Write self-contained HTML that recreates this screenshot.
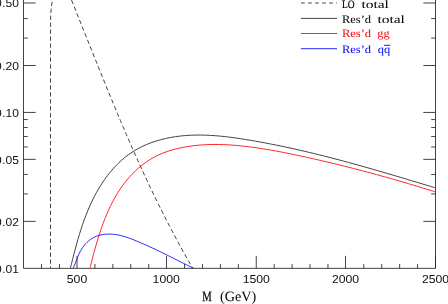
<!DOCTYPE html>
<html><head><meta charset="utf-8"><title>plot</title>
<style>html,body{margin:0;padding:0;background:#fff;overflow:hidden}body{width:448px;height:304px}</style></head>
<body>
<div style="will-change:transform;width:448px;height:304px"><svg width="448" height="304" viewBox="0 0 448 304" style="display:block" text-rendering="geometricPrecision">
<rect width="448" height="304" fill="#fff"/>
<g stroke="#222" stroke-width="0.85" fill="none">
<path d="M23.50 0 V268.35 H435.50 V0"/>
<path d="M41.50 268.35 v-4.40"/>
<path d="M59.45 268.35 v-4.40"/>
<path d="M77.00 268.35 v-12.50"/>
<path d="M94.92 268.35 v-4.40"/>
<path d="M112.85 268.35 v-4.40"/>
<path d="M130.78 268.35 v-4.40"/>
<path d="M148.70 268.35 v-4.40"/>
<path d="M166.50 268.35 v-12.50"/>
<path d="M184.55 268.35 v-4.40"/>
<path d="M202.47 268.35 v-4.40"/>
<path d="M220.40 268.35 v-4.40"/>
<path d="M238.32 268.35 v-4.40"/>
<path d="M256.25 268.35 v-12.50"/>
<path d="M274.18 268.35 v-4.40"/>
<path d="M292.10 268.35 v-4.40"/>
<path d="M310.02 268.35 v-4.40"/>
<path d="M327.95 268.35 v-4.40"/>
<path d="M345.50 268.35 v-12.50"/>
<path d="M363.80 268.35 v-4.40"/>
<path d="M381.73 268.35 v-4.40"/>
<path d="M399.65 268.35 v-4.40"/>
<path d="M417.57 268.35 v-4.40"/>
<path d="M435.50 268.35 v-12.50"/>
<path d="M23.50 3.00 h12.20 M435.50 3.00 h-12.20"/>
<path d="M23.50 18.59 h4.30 M435.50 18.59 h-4.30"/>
<path d="M23.50 38.06 h4.30 M435.50 38.06 h-4.30"/>
<path d="M23.50 65.51 h12.20 M435.50 65.51 h-12.20"/>
<path d="M23.50 112.43 h12.20 M435.50 112.43 h-12.20"/>
<path d="M23.50 119.56 h4.30 M435.50 119.56 h-4.30"/>
<path d="M23.50 127.54 h4.30 M435.50 127.54 h-4.30"/>
<path d="M23.50 136.57 h4.30 M435.50 136.57 h-4.30"/>
<path d="M23.50 147.01 h4.30 M435.50 147.01 h-4.30"/>
<path d="M23.50 159.35 h12.20 M435.50 159.35 h-12.20"/>
<path d="M23.50 174.46 h4.30 M435.50 174.46 h-4.30"/>
<path d="M23.50 193.93 h4.30 M435.50 193.93 h-4.30"/>
<path d="M23.50 221.38 h12.20 M435.50 221.38 h-12.20"/>
</g>
<clipPath id="c"><rect x="23.50" y="-10" width="412.00" height="278.35"/></clipPath>
<g fill="none" stroke-width="0.85" clip-path="url(#c)">
<path d="M50.50 268.20 L50.50 200.00 L50.50 100.00 L50.50 40.00 L50.60 20.00 L50.90 12.00 L51.50 6.00 L52.30 1.00 L53.50 -5.00" stroke="#222" stroke-dasharray="4.3 2.67" stroke-dashoffset="2.6"/>
<path d="M69.04 -6.00 L71.89 1.03 L74.73 8.06 L77.56 15.09 L80.38 22.12 L83.20 29.15 L86.01 36.18 L88.82 43.22 L91.64 50.25 L94.46 57.28 L97.28 64.31 L100.12 71.34 L102.97 78.37 L105.83 85.40 L108.70 92.43 L111.60 99.46 L114.51 106.49 L117.45 113.52 L120.41 120.55 L123.40 127.58 L126.43 134.62 L129.48 141.65 L132.57 148.68 L135.69 155.71 L138.86 162.74 L142.06 169.77 L145.31 176.80 L148.61 183.83 L151.96 190.86 L155.35 197.89 L158.80 204.92 L162.31 211.95 L165.87 218.98 L169.50 226.02 L173.19 233.05 L176.94 240.08 L180.76 247.11 L184.65 254.14 L188.61 261.17 L192.65 268.20" stroke="#222" stroke-dasharray="4.3 2.84" stroke-dashoffset="0.58"/>
<path d="M70.35 268.30 C70.55 267.50 71.14 265.09 71.54 263.49 C71.94 261.88 72.34 260.26 72.75 258.65 C73.16 257.03 73.57 255.41 73.99 253.79 C74.41 252.17 74.84 250.55 75.27 248.93 C75.71 247.31 76.15 245.68 76.60 244.06 C77.05 242.44 77.51 240.82 77.98 239.20 C78.45 237.58 78.93 235.96 79.43 234.35 C79.92 232.74 80.42 231.12 80.94 229.52 C81.46 227.91 81.99 226.31 82.53 224.71 C83.08 223.12 83.64 221.52 84.21 219.94 C84.79 218.36 85.38 216.78 85.98 215.21 C86.59 213.64 87.22 212.08 87.86 210.52 C88.50 208.97 89.16 207.43 89.84 205.89 C90.52 204.36 91.22 202.83 91.94 201.32 C92.67 199.81 93.41 198.31 94.17 196.82 C94.94 195.33 95.72 193.86 96.53 192.40 C97.34 190.94 98.17 189.49 99.03 188.05 C99.89 186.62 100.77 185.20 101.68 183.80 C102.59 182.40 103.53 181.01 104.49 179.65 C105.45 178.28 106.44 176.93 107.46 175.60 C108.48 174.26 109.53 172.95 110.60 171.66 C111.68 170.37 112.78 169.10 113.91 167.86 C115.05 166.62 116.21 165.40 117.40 164.21 C118.58 163.02 119.80 161.86 121.05 160.74 C122.29 159.61 123.57 158.52 124.87 157.46 C126.17 156.40 127.50 155.38 128.86 154.40 C130.22 153.41 131.61 152.47 133.02 151.57 C134.44 150.67 135.88 149.81 137.35 148.99 C138.82 148.17 140.31 147.40 141.83 146.67 C143.34 145.93 144.88 145.24 146.43 144.58 C147.98 143.93 149.55 143.31 151.14 142.73 C152.72 142.15 154.32 141.61 155.92 141.10 C157.53 140.60 159.15 140.13 160.77 139.69 C162.39 139.26 164.02 138.86 165.65 138.49 C167.28 138.12 168.92 137.79 170.56 137.48 C172.20 137.18 173.84 136.91 175.48 136.66 C177.13 136.42 178.78 136.21 180.43 136.02 C182.08 135.84 183.74 135.68 185.39 135.55 C187.05 135.42 188.71 135.32 190.37 135.24 C192.03 135.16 193.70 135.10 195.36 135.07 C197.03 135.04 198.69 135.03 200.36 135.05 C202.03 135.06 203.70 135.10 205.37 135.15 C207.04 135.21 208.72 135.28 210.39 135.38 C212.06 135.47 213.74 135.58 215.41 135.71 C217.09 135.84 218.76 135.98 220.44 136.14 C222.11 136.30 223.79 136.48 225.46 136.67 C227.13 136.86 228.81 137.06 230.48 137.27 C232.16 137.49 233.83 137.72 235.50 137.95 C237.18 138.19 238.85 138.43 240.52 138.69 C242.19 138.94 243.86 139.21 245.52 139.48 C247.19 139.75 248.86 140.03 250.52 140.31 C252.19 140.59 253.85 140.88 255.51 141.17 C257.17 141.47 258.83 141.76 260.48 142.07 C262.14 142.37 263.79 142.68 265.45 142.99 C267.10 143.30 268.75 143.62 270.40 143.94 C272.05 144.26 273.69 144.59 275.34 144.92 C276.99 145.25 278.63 145.59 280.27 145.93 C281.92 146.27 283.56 146.62 285.20 146.97 C286.84 147.31 288.47 147.67 290.11 148.02 C291.75 148.38 293.38 148.74 295.02 149.11 C296.65 149.48 298.28 149.84 299.91 150.22 C301.55 150.59 303.18 150.97 304.80 151.35 C306.43 151.73 308.06 152.12 309.69 152.51 C311.31 152.89 312.94 153.29 314.56 153.68 C316.19 154.08 317.81 154.48 319.43 154.88 C321.05 155.28 322.68 155.69 324.30 156.10 C325.92 156.51 327.54 156.92 329.15 157.33 C330.77 157.75 332.39 158.17 334.01 158.59 C335.62 159.01 337.24 159.44 338.86 159.86 C340.47 160.29 342.09 160.72 343.70 161.15 C345.31 161.59 346.93 162.02 348.54 162.46 C350.15 162.90 351.77 163.34 353.38 163.78 C354.99 164.23 356.60 164.67 358.21 165.12 C359.82 165.57 361.43 166.02 363.04 166.47 C364.65 166.93 366.26 167.38 367.87 167.84 C369.48 168.29 371.09 168.75 372.70 169.22 C374.31 169.68 375.92 170.14 377.53 170.60 C379.14 171.07 380.74 171.54 382.35 172.00 C383.96 172.47 385.57 172.94 387.18 173.41 C388.79 173.89 390.39 174.36 392.00 174.83 C393.61 175.31 395.22 175.78 396.83 176.26 C398.44 176.74 400.05 177.22 401.65 177.70 C403.26 178.18 404.87 178.66 406.48 179.14 C408.09 179.62 409.70 180.10 411.31 180.59 C412.92 181.07 414.53 181.56 416.14 182.04 C417.75 182.53 419.37 183.01 420.98 183.50 C422.59 183.99 424.20 184.48 425.81 184.97 C427.43 185.45 429.04 185.94 430.66 186.43 C432.27 186.92 434.69 187.66 435.50 187.90" stroke="#222"/>
<path d="M90.00 268.30 C90.18 267.55 90.72 265.33 91.10 263.83 C91.47 262.33 91.84 260.83 92.22 259.32 C92.61 257.81 93.00 256.30 93.39 254.78 C93.79 253.27 94.20 251.74 94.61 250.22 C95.03 248.70 95.45 247.18 95.88 245.65 C96.32 244.13 96.76 242.60 97.21 241.08 C97.67 239.55 98.13 238.03 98.61 236.51 C99.09 234.99 99.58 233.47 100.08 231.95 C100.59 230.44 101.10 228.92 101.63 227.42 C102.16 225.91 102.71 224.41 103.27 222.91 C103.83 221.42 104.41 219.93 105.00 218.45 C105.59 216.97 106.20 215.49 106.83 214.03 C107.45 212.57 108.10 211.11 108.76 209.67 C109.42 208.22 110.10 206.79 110.80 205.37 C111.50 203.95 112.22 202.54 112.96 201.14 C113.71 199.75 114.47 198.37 115.25 197.00 C116.04 195.63 116.84 194.28 117.67 192.95 C118.50 191.61 119.35 190.29 120.23 188.99 C121.10 187.69 122.00 186.41 122.92 185.14 C123.85 183.88 124.80 182.63 125.77 181.41 C126.75 180.19 127.75 178.98 128.78 177.80 C129.81 176.62 130.87 175.46 131.95 174.32 C133.04 173.19 134.15 172.08 135.29 170.99 C136.43 169.91 137.60 168.85 138.79 167.82 C139.98 166.79 141.20 165.79 142.45 164.82 C143.69 163.85 144.97 162.92 146.26 162.02 C147.56 161.12 148.88 160.26 150.22 159.43 C151.56 158.61 152.93 157.82 154.32 157.08 C155.71 156.34 157.12 155.63 158.55 154.96 C159.98 154.30 161.43 153.67 162.89 153.09 C164.36 152.50 165.84 151.95 167.33 151.44 C168.83 150.93 170.34 150.45 171.86 150.01 C173.38 149.57 174.91 149.16 176.45 148.78 C177.98 148.40 179.53 148.05 181.08 147.73 C182.63 147.41 184.18 147.12 185.74 146.85 C187.30 146.58 188.86 146.34 190.42 146.12 C191.98 145.90 193.54 145.70 195.11 145.53 C196.67 145.36 198.24 145.21 199.81 145.08 C201.38 144.95 202.95 144.84 204.52 144.75 C206.09 144.67 207.66 144.60 209.24 144.55 C210.81 144.50 212.38 144.48 213.96 144.47 C215.53 144.46 217.11 144.47 218.69 144.49 C220.26 144.52 221.84 144.56 223.42 144.62 C224.99 144.68 226.57 144.75 228.15 144.84 C229.72 144.93 231.30 145.03 232.87 145.15 C234.45 145.27 236.03 145.40 237.60 145.55 C239.18 145.69 240.75 145.85 242.33 146.02 C243.90 146.19 245.47 146.37 247.04 146.56 C248.61 146.75 250.18 146.95 251.75 147.16 C253.32 147.37 254.89 147.59 256.45 147.82 C258.02 148.05 259.58 148.28 261.15 148.53 C262.71 148.77 264.27 149.02 265.82 149.28 C267.38 149.54 268.94 149.80 270.49 150.07 C272.04 150.34 273.60 150.61 275.15 150.89 C276.70 151.17 278.25 151.46 279.79 151.75 C281.34 152.04 282.88 152.34 284.43 152.64 C285.97 152.94 287.52 153.25 289.06 153.56 C290.60 153.87 292.14 154.19 293.68 154.51 C295.22 154.83 296.76 155.15 298.30 155.48 C299.84 155.80 301.38 156.13 302.92 156.47 C304.45 156.80 305.99 157.14 307.53 157.48 C309.07 157.82 310.60 158.16 312.14 158.50 C313.68 158.85 315.21 159.20 316.75 159.55 C318.29 159.90 319.82 160.25 321.36 160.61 C322.89 160.97 324.43 161.33 325.96 161.69 C327.50 162.05 329.03 162.42 330.57 162.78 C332.10 163.15 333.64 163.52 335.17 163.89 C336.70 164.27 338.24 164.64 339.77 165.02 C341.30 165.40 342.83 165.78 344.37 166.16 C345.90 166.54 347.43 166.93 348.96 167.32 C350.49 167.71 352.02 168.10 353.55 168.49 C355.08 168.88 356.61 169.28 358.14 169.68 C359.67 170.07 361.20 170.48 362.73 170.88 C364.25 171.28 365.78 171.69 367.31 172.09 C368.83 172.50 370.36 172.91 371.89 173.32 C373.41 173.74 374.94 174.15 376.46 174.57 C377.98 174.99 379.51 175.40 381.03 175.83 C382.55 176.25 384.08 176.67 385.60 177.10 C387.12 177.52 388.64 177.95 390.16 178.38 C391.68 178.81 393.20 179.24 394.72 179.68 C396.24 180.11 397.75 180.55 399.27 180.99 C400.79 181.43 402.30 181.87 403.82 182.31 C405.33 182.75 406.85 183.20 408.36 183.65 C409.87 184.09 411.39 184.54 412.90 184.99 C414.41 185.44 415.92 185.90 417.43 186.35 C418.94 186.81 420.45 187.26 421.96 187.72 C423.46 188.18 424.97 188.64 426.48 189.10 C427.98 189.57 429.49 190.03 430.99 190.50 C432.50 190.96 434.75 191.67 435.50 191.90" stroke="#ff0000"/>
<path d="M73.10 268.30 C73.21 268.06 73.53 267.35 73.74 266.87 C73.95 266.38 74.16 265.89 74.37 265.40 C74.57 264.90 74.77 264.40 74.97 263.90 C75.17 263.40 75.37 262.89 75.57 262.38 C75.77 261.87 75.97 261.36 76.17 260.85 C76.37 260.33 76.57 259.82 76.78 259.30 C76.98 258.79 77.19 258.27 77.40 257.76 C77.61 257.24 77.82 256.73 78.04 256.22 C78.25 255.71 78.48 255.19 78.70 254.69 C78.93 254.18 79.16 253.67 79.40 253.17 C79.64 252.67 79.89 252.18 80.14 251.68 C80.40 251.19 80.66 250.71 80.93 250.22 C81.21 249.74 81.49 249.27 81.78 248.80 C82.07 248.33 82.37 247.87 82.68 247.42 C82.99 246.97 83.32 246.53 83.65 246.09 C83.98 245.66 84.32 245.23 84.68 244.81 C85.03 244.39 85.39 243.99 85.76 243.59 C86.14 243.19 86.52 242.80 86.91 242.43 C87.30 242.05 87.70 241.68 88.11 241.33 C88.52 240.97 88.93 240.63 89.36 240.30 C89.78 239.97 90.22 239.65 90.66 239.34 C91.10 239.04 91.55 238.74 92.01 238.47 C92.47 238.19 92.93 237.92 93.41 237.67 C93.88 237.42 94.36 237.18 94.85 236.96 C95.34 236.73 95.83 236.52 96.33 236.33 C96.83 236.13 97.34 235.95 97.85 235.78 C98.36 235.62 98.88 235.46 99.40 235.32 C99.92 235.18 100.45 235.05 100.98 234.93 C101.51 234.81 102.04 234.71 102.58 234.62 C103.11 234.53 103.66 234.45 104.20 234.38 C104.74 234.31 105.29 234.25 105.84 234.21 C106.38 234.16 106.93 234.13 107.48 234.11 C108.04 234.09 108.59 234.07 109.14 234.07 C109.69 234.07 110.25 234.08 110.80 234.10 C111.35 234.12 111.90 234.15 112.46 234.19 C113.01 234.23 113.56 234.28 114.11 234.34 C114.66 234.40 115.21 234.47 115.75 234.55 C116.30 234.62 116.84 234.71 117.38 234.80 C117.92 234.90 118.46 235.00 118.99 235.11 C119.53 235.23 120.06 235.34 120.60 235.47 C121.13 235.60 121.66 235.73 122.18 235.87 C122.71 236.01 123.24 236.16 123.76 236.31 C124.28 236.47 124.81 236.62 125.33 236.79 C125.85 236.95 126.36 237.12 126.88 237.30 C127.40 237.47 127.91 237.65 128.43 237.84 C128.94 238.02 129.45 238.21 129.97 238.40 C130.48 238.59 130.99 238.79 131.50 238.99 C132.01 239.18 132.52 239.39 133.02 239.59 C133.53 239.79 134.04 240.00 134.54 240.21 C135.05 240.41 135.55 240.62 136.06 240.83 C136.56 241.04 137.06 241.26 137.57 241.47 C138.07 241.68 138.57 241.89 139.08 242.11 C139.58 242.32 140.08 242.53 140.58 242.75 C141.08 242.96 141.58 243.18 142.08 243.39 C142.58 243.61 143.08 243.83 143.58 244.04 C144.08 244.26 144.58 244.48 145.08 244.70 C145.58 244.92 146.08 245.14 146.57 245.36 C147.07 245.58 147.57 245.80 148.06 246.02 C148.56 246.24 149.06 246.47 149.55 246.69 C150.05 246.91 150.55 247.14 151.04 247.36 C151.54 247.59 152.03 247.82 152.52 248.04 C153.02 248.27 153.51 248.50 154.01 248.73 C154.50 248.96 154.99 249.19 155.48 249.42 C155.98 249.65 156.47 249.88 156.96 250.12 C157.45 250.35 157.94 250.59 158.44 250.82 C158.93 251.06 159.42 251.29 159.91 251.53 C160.40 251.77 160.89 252.01 161.38 252.24 C161.87 252.48 162.36 252.72 162.85 252.96 C163.33 253.20 163.82 253.44 164.31 253.69 C164.80 253.93 165.29 254.17 165.78 254.41 C166.27 254.66 166.75 254.90 167.24 255.14 C167.73 255.39 168.22 255.63 168.71 255.88 C169.19 256.12 169.68 256.37 170.17 256.61 C170.66 256.86 171.14 257.10 171.63 257.35 C172.12 257.59 172.60 257.84 173.09 258.09 C173.58 258.33 174.06 258.58 174.55 258.83 C175.04 259.07 175.53 259.32 176.01 259.56 C176.50 259.81 176.99 260.06 177.47 260.30 C177.96 260.55 178.45 260.80 178.93 261.04 C179.42 261.29 179.91 261.54 180.40 261.78 C180.88 262.03 181.37 262.27 181.86 262.52 C182.35 262.76 182.83 263.01 183.32 263.25 C183.81 263.50 184.30 263.74 184.79 263.98 C185.27 264.23 185.76 264.47 186.25 264.71 C186.74 264.96 187.23 265.20 187.72 265.44 C188.21 265.68 188.70 265.92 189.19 266.16 C189.67 266.40 190.16 266.64 190.65 266.88 C191.14 267.12 191.64 267.36 192.13 267.59 C192.62 267.83 193.35 268.18 193.60 268.30" stroke="#0000ff"/>
</g>
<g fill="none" stroke-width="0.85">
<path d="M301 3 H337" stroke="#222" stroke-dasharray="3.75 3.3"/>
<path d="M301 18.4 H337" stroke="#222"/>
<path d="M301 33.5 H337" stroke="#ff0000"/>
<path d="M301 48.7 H337" stroke="#0000ff"/>
</g>
<g font-family="'Liberation Serif', serif" font-size="11.3px">
<text x="341.9" y="8" fill="#000" stroke="#000" stroke-width="0.2" textLength="12.6" lengthAdjust="spacingAndGlyphs">LO</text>
<text x="361.40" y="8.00" fill="#000" textLength="27.50" lengthAdjust="spacingAndGlyphs">total</text>
<text x="341.90" y="23.00" fill="#000" textLength="29.20" lengthAdjust="spacingAndGlyphs">Res’d</text>
<text x="377.40" y="23.00" fill="#000" textLength="27.50" lengthAdjust="spacingAndGlyphs">total</text>
<text x="341.90" y="37.00" fill="#ff0000" textLength="29.20" lengthAdjust="spacingAndGlyphs">Res’d</text>
<text x="377.20" y="37.00" fill="#ff0000" textLength="12.40" lengthAdjust="spacingAndGlyphs">gg</text>
<text x="341.90" y="53.00" fill="#0000ff" textLength="29.20" lengthAdjust="spacingAndGlyphs">Res’d</text>
<text x="377.70" y="53.00" fill="#0000ff" textLength="12.50" lengthAdjust="spacingAndGlyphs">qq</text>
<path d="M383.9 45.3 H390.3" stroke="#0000ff" stroke-width="0.9" fill="none"/>
</g>
<g font-family="'Liberation Serif', serif" font-size="14.2px" fill="#000">
<text x="202.3" y="301" textLength="9.5" lengthAdjust="spacingAndGlyphs" stroke="#000" stroke-width="0.25">M</text>
<text x="220.0" y="301" textLength="36.2" lengthAdjust="spacingAndGlyphs">(GeV)</text>
</g>
<g font-family="'Liberation Sans', sans-serif" font-size="11.5px" fill="#111">
<text x="66.80" y="283" textLength="20.40" lengthAdjust="spacingAndGlyphs">500</text>
<text x="152.60" y="283" textLength="27.20" lengthAdjust="spacingAndGlyphs">1000</text>
<text x="242.65" y="283" textLength="27.20" lengthAdjust="spacingAndGlyphs">1500</text>
<text x="331.90" y="283" textLength="27.20" lengthAdjust="spacingAndGlyphs">2000</text>
<text x="421.90" y="283" textLength="27.20" lengthAdjust="spacingAndGlyphs">2500</text>
<text x="-5.0" y="7" textLength="6.7" lengthAdjust="spacingAndGlyphs">0</text>
<text x="2.15" y="7">.</text>
<text x="5.5" y="7" textLength="13.4" lengthAdjust="spacingAndGlyphs">50</text>
<text x="-5.0" y="70" textLength="6.7" lengthAdjust="spacingAndGlyphs">0</text>
<text x="2.15" y="70">.</text>
<text x="5.5" y="70" textLength="13.4" lengthAdjust="spacingAndGlyphs">20</text>
<text x="-5.0" y="117" textLength="6.7" lengthAdjust="spacingAndGlyphs">0</text>
<text x="2.15" y="117">.</text>
<text x="5.5" y="117" textLength="13.4" lengthAdjust="spacingAndGlyphs">10</text>
<text x="-5.0" y="164" textLength="6.7" lengthAdjust="spacingAndGlyphs">0</text>
<text x="2.15" y="164">.</text>
<text x="5.5" y="164" textLength="13.4" lengthAdjust="spacingAndGlyphs">05</text>
<text x="-5.0" y="226" textLength="6.7" lengthAdjust="spacingAndGlyphs">0</text>
<text x="2.15" y="226">.</text>
<text x="5.5" y="226" textLength="13.4" lengthAdjust="spacingAndGlyphs">02</text>
<text x="-5.0" y="273" textLength="6.7" lengthAdjust="spacingAndGlyphs">0</text>
<text x="2.15" y="273">.</text>
<text x="5.5" y="273" textLength="13.4" lengthAdjust="spacingAndGlyphs">01</text>
</g>
</svg></div>
</body></html>
